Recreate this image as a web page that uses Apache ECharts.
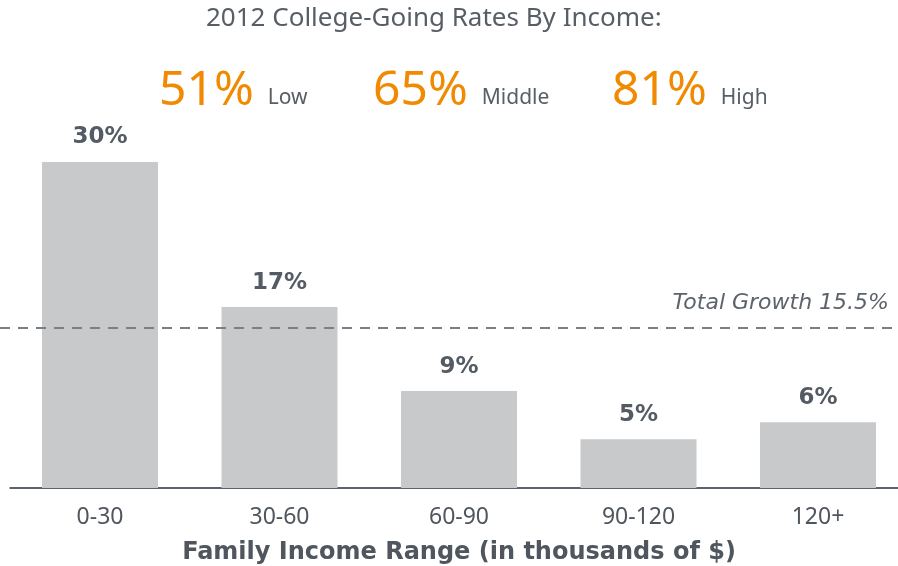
<!DOCTYPE html>
<html><head><meta charset="utf-8">
<script src="https://cdn.jsdelivr.net/npm/echarts@6/dist/echarts.min.js"></script>
<style>html,body{margin:0;padding:0;background:#fff}#c{width:898px;height:566px}</style>
</head><body><div id="c"></div>
<script>
const categories = ['0-30', '30-60', '60-90', '90-120', '120+'];
const growth = [30, 16.65, 8.92, 4.48, 6.05];
const barLabels = ['30%', '17%', '9%', '5%', '6%'];
const totalGrowthValue = 14.72;
const totalGrowthLabel = 'Total Growth 15.5%';
const headlineRates = ['51%', '65%', '81%'];
const headlineGroups = ['Low', 'Middle', 'High'];

const GRAY_TXT = '#575e66';
const ORANGE = '#f18a00';
const chart = echarts.init(document.getElementById('c'), null, {renderer: 'canvas'});

const headLeft = [154, 368, 607];
const titles = [{
  text: '2012 College-Going Rates By Income:',
  left: 201, top: 1,
  textStyle: {fontFamily: 'Noto Sans', fontWeight: 'normal', fontSize: 26, color: GRAY_TXT}
}];
headlineRates.forEach((r, i) => {
  titles.push({
    text: '{a|' + r + '} {b|' + headlineGroups[i] + '}',
    left: headLeft[i], top: 56,
    textStyle: {
      fontWeight: 'normal',
      rich: {
        a: {fontFamily: 'Noto Sans', fontWeight: 'normal', fontSize: 48, color: ORANGE, verticalAlign: 'bottom', lineHeight: 54},
        b: {fontFamily: 'Noto Sans', fontWeight: 'normal', fontSize: 21, color: GRAY_TXT, verticalAlign: 'bottom', lineHeight: 54, padding: [0, 0, 6, 9]}
      }
    }
  });
});

const lineData = [[0, totalGrowthValue], [1, totalGrowthValue]];

chart.setOption({
  animation: false,
  title: titles,
  grid: [
    {left: 10.25, right: -9.75, top: 162, bottom: 78, outerBoundsMode: 'none', containLabel: false},
    {left: 0, right: 0, top: 162, bottom: 78, outerBoundsMode: 'none'}
  ],
  xAxis: [{
    type: 'category', data: categories, gridIndex: 0,
    axisLine: {lineStyle: {color: '#5d636b', width: 2}},
    axisTick: {show: false},
    axisLabel: {fontFamily: 'Noto Sans', fontSize: 23, color: '#4f565e', margin: 18},
    name: 'Family Income Range (in thousands of $)',
    nameLocation: 'middle', nameGap: 53,
    nameTextStyle: {fontFamily: 'DejaVu Sans', fontWeight: 'bold', fontSize: 24, color: '#4f565e'}
  }, {
    type: 'value', gridIndex: 1, min: 0, max: 1, show: false
  }],
  yAxis: [
    {type: 'value', gridIndex: 0, min: 0, max: 30, show: false, splitLine: {show: false}},
    {type: 'value', gridIndex: 1, min: 0, max: 30, show: false, splitLine: {show: false}}
  ],
  series: [{
    type: 'bar', data: growth, barWidth: 116, xAxisIndex: 0, yAxisIndex: 0,
    itemStyle: {color: '#c8c9cb'},
    label: {
      show: true, position: 'top', distance: 13,
      formatter: p => barLabels[p.dataIndex],
      fontFamily: 'DejaVu Sans', fontWeight: 'bold', fontSize: 23, color: '#545b64'
    }
  }, {
    type: 'line', xAxisIndex: 1, yAxisIndex: 1, data: lineData,
    symbol: 'none', silent: true,
    lineStyle: {type: [10, 8], color: '#7a7e85', width: 2},
    endLabel: {
      show: true, formatter: totalGrowthLabel,
      align: 'right', verticalAlign: 'bottom', offset: [-17, -14],
      fontFamily: 'DejaVu Sans', fontStyle: 'italic', fontSize: 22, color: '#5d636b'
    }
  }]
});
</script></body></html>
